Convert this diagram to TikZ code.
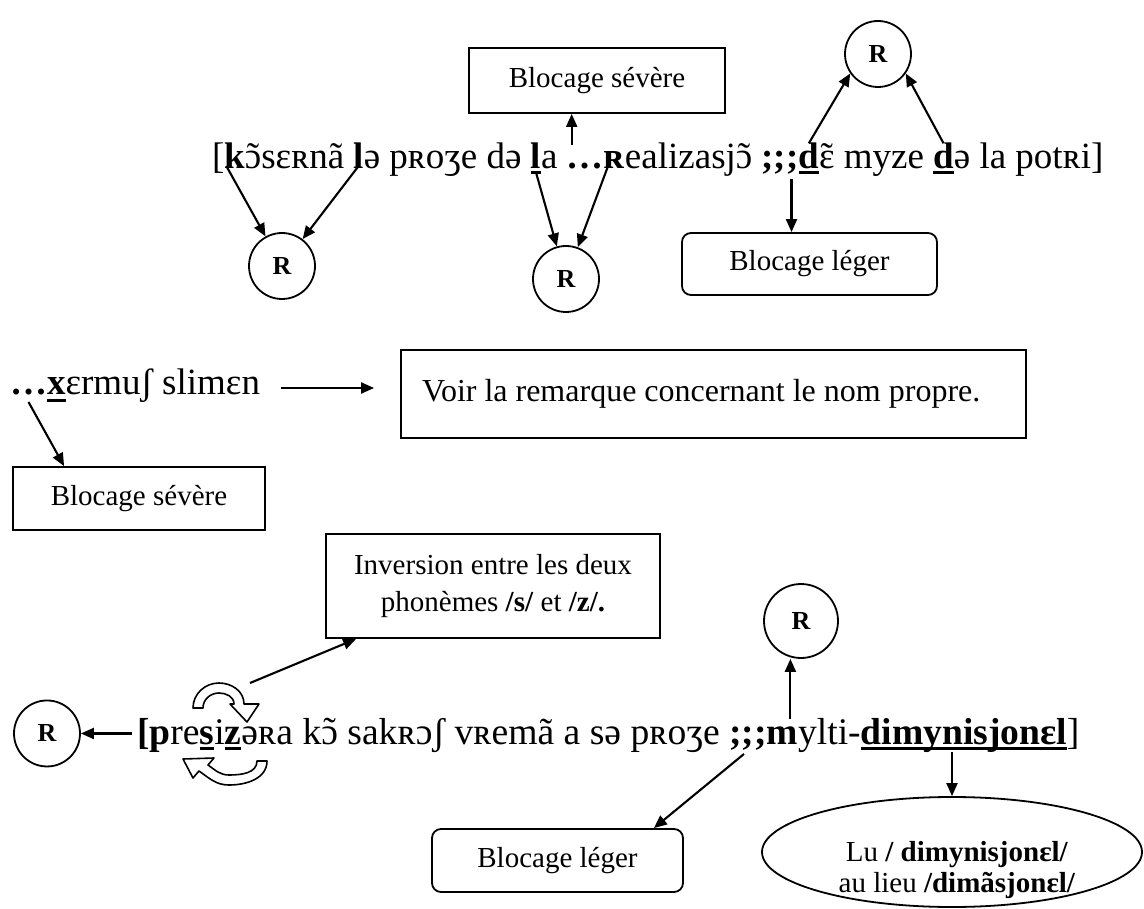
\documentclass[tikz,border=0pt]{standalone}
\usepackage{fontspec}
\setmainfont{Liberation Serif}
\usetikzlibrary{arrows.meta,calc,shapes.geometric}

% thick underline placed #1 below the baseline
\newcommand\ulx[2][6pt]{\leavevmode\setbox0\hbox{#2}\rlap{\rule[-#1]{\wd0}{2.6pt}}\box0}
% nasal vowel: tilde set over the letter
\newcommand\nas[1]{{\ooalign{#1\crcr\hidewidth\raisebox{0.02em}{\symbol{"02DC}}\hidewidth\crcr}}}
% word space kept at the end of a node text
\newcommand\wsp{\ \kern0pt}

\tikzset{
  txt/.style={inner sep=0pt, outer sep=0pt, anchor=base west,
    font=\fontsize{37}{44}\selectfont},
  txtb/.style={txt, font=\fontsize{37.6}{44}\selectfont},
  arr/.style={-{Triangle[length=13pt,width=11pt]}, line width=2.1pt},
  rbox/.style={draw, line width=1.8pt, inner sep=0pt,
    font=\fontsize{29}{37}\selectfont},
  roundbox/.style={rbox, rounded corners=9pt},
  rcirc/.style={draw, circle, line width=1.8pt, minimum size=66pt,
    inner sep=0pt, font=\fontsize{26}{30}\selectfont\bfseries},
  curvearrow/.style={draw, line width=1.6pt, fill=white, line join=round},
}

\begin{document}
\begin{tikzpicture}[x=1pt,y=1pt]
\useasboundingbox[fill=white] (0,0) rectangle (1144,-909);

% ---------- first transcription ----------
\node[txt] (t1) at (212,-169) {[};
\node[txt] (kk) at (t1.base east) {\textbf{k}};
\node[txt] (t3) at (kk.base east) {\nas{ɔ}sɛʀnã\wsp};
\node[txt] (l1) at (t3.base east) {\textbf{l}};
\node[txt] (t5) at (l1.base east) {ə pʀoʒe də\wsp};
\node[txt] (l2) at (t5.base east) {\ulx[5pt]{\textbf{l}}};
\node[txt] (t7) at (l2.base east) {a\wsp};
\node[txt] (dots) at (t7.base east) {\textbf{…}};
\node[txt] (rr) at (dots.base east) {\textbf{ʀ}};
\node[txt] (t10) at (rr.base east) {ealizasj\nas{ɔ}\wsp};
\node[txt] (semi) at (t10.base east) {\textbf{;;;}};
\node[txt] (d1) at (semi.base east) {\ulx[5pt]{\textbf{d}}};
\node[txt] (t13) at (d1.base east) {\nas{ɛ} myze\wsp};
\node[txt] (d2) at (t13.base east) {\ulx[5pt]{\textbf{d}}};
\node[txt] (t15) at (d2.base east) {ə la potʀi]};

\node[rcirc] (r1) at (282,-266) {R};
\node[rcirc] (r2) at (566,-279) {R};
\node[rcirc] (r3) at (878,-54) {R};
\node[rbox, minimum width=256pt, minimum height=65pt] (bs1) at (597,-80.5) {Blocage sévère};
\node[roundbox, minimum width=255pt, minimum height=62pt] (bl1) at (809.5,-264) {Blocage léger};

\draw[arr] ($(kk.base west)+(2,3)$) -- (r1);
\draw[arr] ($(l1.base)+(0,3)$) -- (r1);
\draw[arr] ($(l2.base)+(0,-3)$) -- (r2);
\draw[arr] ($(rr.base west)+(4,2)$) -- (r2);
\coordinate (o5) at ($(dots.base west)+(5,24)$);
\draw[arr] (o5) -- (o5 |- bs1.south);
\coordinate (o6) at ($(semi.base east)+(-7,-10)$);
\draw[arr] (o6) -- (o6 |- bl1.north);
\draw[arr] (d1.north) -- (r3.-145);
\draw[arr] (d2.north) -- (r3.-35);

% ---------- proper name ----------
\node[txt] (dots2) at (10,-395) {\textbf{…}};
\node[txt] (xx) at (dots2.base east) {\ulx[7pt]{\textbf{x}}};
\node[txt] (slim) at (xx.base east) {ɛrmuʃ slimɛn};
\node[rbox, minimum width=252pt, minimum height=63pt] (bs2) at (139,-498.5) {Blocage sévère};
\node[rbox, minimum width=625pt, minimum height=88pt,
  font=\fontsize{32}{38}\selectfont] (voir) at (713.5,-394)
  {\makebox[583pt][l]{Voir la remarque concernant le nom propre.}};

\draw[arr] ($(dots2.base)+(0,-7)$) -- ($(bs2.north west)+(52,0)$);
\coordinate (o10) at ($(slim.base east)+(21,7)$);
\draw[arr] (o10) -- ($(voir.west |- o10)+(-26,0)$);

% ---------- second transcription ----------
\node[txtb] (br2) at (137,-744) {\textbf{[}};
\node[txtb] (b2) at (br2.base east) {\textbf{p}};
\node[txtb] (b3) at (b2.base east) {re};
\node[txtb] (ss) at (b3.base east) {\ulx[6pt]{\textbf{s}}};
\node[txtb] (b5) at (ss.base east) {i};
\node[txtb] (zz) at (b5.base east) {\ulx[6pt]{\textbf{z}}};
\node[txtb] (b7) at (zz.base east) {əʀa k\nas{ɔ} sakʀɔʃ vʀemã a sə pʀoʒe\wsp};
\node[txtb] (semi2) at (b7.base east) {\textbf{;;;}};
\node[txtb] (mm) at (semi2.base east) {\textbf{m}};
\node[txtb] (b10) at (mm.base east) {ylti-};
\node[txtb] (dimy) at (b10.base east) {\ulx[6pt]{\textbf{dimynisjonɛl}}};
\node[txtb] (b12) at (dimy.base east) {]};

\node[rcirc] (r4) at ($(br2.west)+(-90,0)$) {R};
\node[rcirc, minimum size=74pt] (r5) at (801,-621) {R};
\node[rbox, minimum width=334pt, minimum height=104pt, align=center] (inv) at (493,-586)
  {Inversion entre les deux\\phonèmes \textbf{/s/} et \textbf{/z/.}};
\node[roundbox, minimum width=251pt, minimum height=63pt] (bl2) at (557.5,-860.5) {Blocage léger};
\node[draw, ellipse, line width=1.8pt, minimum width=380pt, minimum height=110pt] (ell) at (952,-852) {};
\node[inner sep=0pt, align=center, font=\fontsize{29}{31}\selectfont] (elltxt) at (957,-870)
  {Lu \textbf{/ dimynisjonɛl/}\\au lieu \textbf{/dimãsjonɛl/}};

% inversion marks around /s/ and /z/
\coordinate (cu) at (222,-708);
\coordinate (cl) at (229,-761);
\draw[curvearrow] ([shift={(-29,0)}]cu) to[out=90,in=180] ([shift={(-3,25)}]cu)
  to[out=0,in=90] ([shift={(22,4)}]cu) -- ([shift={(37,4)}]cu)
  -- ([shift={(25,-14)}]cu) -- ([shift={(8,4)}]cu) -- ([shift={(12,4)}]cu)
  to[out=90,in=0] ([shift={(-3,15)}]cu) to[out=180,in=90] ([shift={(-19,0)}]cu) -- cycle;
\draw[curvearrow] ([shift={(38,0)}]cl) to[out=-90,in=0] ([shift={(0,-24)}]cl)
  to[out=180,in=-35] ([shift={(-30,-10)}]cl) -- ([shift={(-36,-17)}]cl)
  -- ([shift={(-46,2)}]cl) -- ([shift={(-15,3)}]cl) -- ([shift={(-21,-4)}]cl)
  to[out=-35,in=180] ([shift={(0,-14)}]cl) to[out=0,in=-90] ([shift={(28,0)}]cl) -- cycle;
\coordinate (cuend) at ($(cu)+(28,25)$);

\draw[arr] ($(br2.west)+(-5,0)$) -- (r4);
\draw[arr] (cuend) -- ($(inv.south west)+(31,0)$);
\draw[arr] ($(semi2.base)+(-4,-10)$) -- ($(bl2.north east)+(-30,0)$);
\coordinate (o14) at ($(mm.base)+(8,25)$);
\draw[arr] (o14) -- (o14 |- r5.south);
\coordinate (o15) at (ell.north |- dimy.south);
\draw[arr] (o15) -- (ell.north);
\end{tikzpicture}
\end{document}
